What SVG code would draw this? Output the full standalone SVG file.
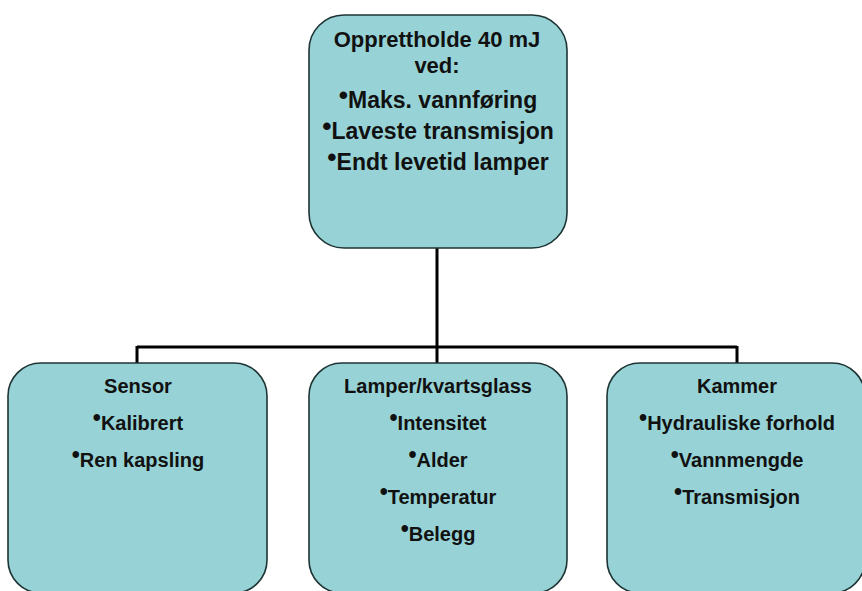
<svg xmlns="http://www.w3.org/2000/svg" width="862" height="591" viewBox="0 0 862 591">
<style>
.box{fill:#97d3d6;stroke:#1e3434;stroke-width:1.6}
.conn{fill:none;stroke:#000;stroke-width:3}
text{font-family:"Liberation Sans",Arial,sans-serif;font-weight:bold;fill:#111;text-anchor:middle}
.t{font-size:23px}
.h{font-size:22px}
.b{font-size:20px}
.dot{font-size:1.15em}
</style>
<rect width="862" height="591" fill="#ffffff"/>
<g id="connectors">
<path class="conn" d="M437 248 V347 M137 347 H737 M137 346 V363 M437 347 V363 M737 346 V363"/>
</g>
<g id="node-top">
<rect class="box" x="309" y="15" width="258" height="233" rx="35" ry="35"/>
<text class="h" x="437" y="47">Opprettholde 40 mJ</text>
<text class="h" x="437" y="73">ved:</text>
<text class="t" x="438" y="108"><tspan class="dot" dy="-4">•</tspan><tspan dy="4">Maks. vannføring</tspan></text>
<text class="t" x="438" y="139"><tspan class="dot" dy="-4">•</tspan><tspan dy="4">Laveste transmisjon</tspan></text>
<text class="t" x="438" y="170"><tspan class="dot" dy="-4">•</tspan><tspan dy="4">Endt levetid lamper</tspan></text>
</g>
<g id="node-sensor">
<rect class="box" x="8" y="363" width="259" height="230" rx="33" ry="33"/>
<text class="b" x="138" y="393">Sensor</text>
<text class="b" x="138" y="430"><tspan class="dot" dy="-4">•</tspan><tspan dy="4">Kalibrert</tspan></text>
<text class="b" x="138" y="467"><tspan class="dot" dy="-4">•</tspan><tspan dy="4">Ren kapsling</tspan></text>
</g>
<g id="node-lamper">
<rect class="box" x="309" y="363" width="258" height="230" rx="33" ry="33"/>
<text class="b" x="438" y="393">Lamper/kvartsglass</text>
<text class="b" x="438" y="430"><tspan class="dot" dy="-4">•</tspan><tspan dy="4">Intensitet</tspan></text>
<text class="b" x="438" y="467"><tspan class="dot" dy="-4">•</tspan><tspan dy="4">Alder</tspan></text>
<text class="b" x="438" y="504"><tspan class="dot" dy="-4">•</tspan><tspan dy="4">Temperatur</tspan></text>
<text class="b" x="438" y="541"><tspan class="dot" dy="-4">•</tspan><tspan dy="4">Belegg</tspan></text>
</g>
<g id="node-kammer">
<rect class="box" x="607" y="363" width="258" height="230" rx="33" ry="33"/>
<text class="b" x="737" y="393">Kammer</text>
<text class="b" x="737" y="430"><tspan class="dot" dy="-4">•</tspan><tspan dy="4">Hydrauliske forhold</tspan></text>
<text class="b" x="737" y="467"><tspan class="dot" dy="-4">•</tspan><tspan dy="4">Vannmengde</tspan></text>
<text class="b" x="737" y="504"><tspan class="dot" dy="-4">•</tspan><tspan dy="4">Transmisjon</tspan></text>
</g>
</svg>
